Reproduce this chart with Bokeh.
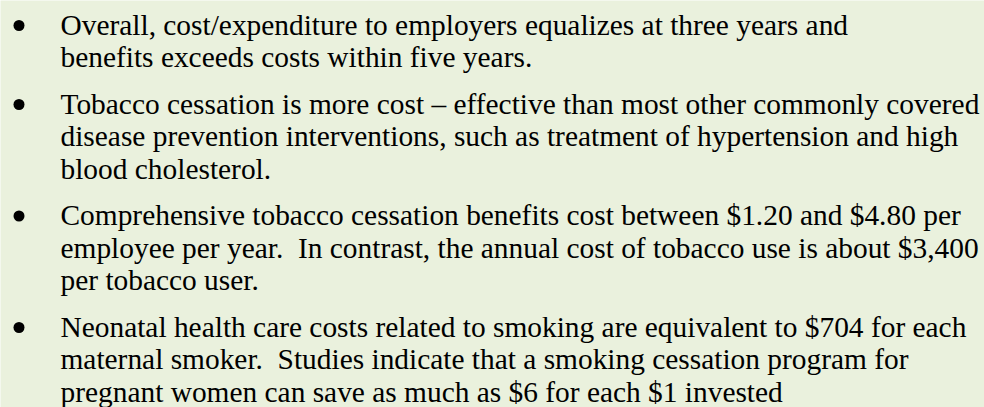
from bokeh.plotting import figure
from bokeh.models import Range1d
from bokeh.core.properties import value
from bokeh.embed import file_html
from bokeh.resources import INLINE

bullet1 = ["Overall, cost/expenditure to employers equalizes at three years and",
           "benefits exceeds costs within five years."]
bullet2 = ["Tobacco cessation is more cost \u2013 effective than most other commonly covered",
           "disease prevention interventions, such as treatment of hypertension and high",
           "blood cholesterol."]
bullet3 = ["Comprehensive tobacco cessation benefits cost between $1.20 and $4.80 per",
           "employee per year.\u00a0 In contrast, the annual cost of tobacco use is about $3,400",
           "per tobacco user."]
bullet4 = ["Neonatal health care costs related to smoking are equivalent to $704 for each",
           "maternal smoker.\u00a0 Studies indicate that a smoking cessation program for",
           "pregnant women can save as much as $6 for each $1 invested"]
bullets = [bullet1, bullet2, bullet3, bullet4]

W, H = 984, 407
FS = 29.4
LINE = 32.5
PARA = 14
FIRST = 33
DY = -9  # correction between requested and drawn baseline

p = figure(width=W, height=H, output_backend="svg", toolbar_location=None,
           x_range=Range1d(0, W), y_range=Range1d(H, 0),
           min_border=0, background_fill_color="#EAF1DD",
           border_fill_color="#EAF1DD")
p.axis.visible = False
p.grid.visible = False
p.outline_line_color = None

xs, ys, texts = [], [], []
bx, by = [], []
y = FIRST
for b in bullets:
    bx.append(18.5)
    by.append(y - 8)
    for line in b:
        xs.append(60)
        ys.append(y + DY)
        texts.append(line)
        y += LINE
    y += PARA

p.text(x=xs, y=ys, text=texts, text_font=value("Liberation Serif"),
       text_font_size=f"{FS}px", text_baseline="alphabetic", text_color="black")
p.scatter(x=bx, y=by, size=11, marker="circle", fill_color="black", line_color=None)

open("out.html", "w").write(file_html(p, INLINE))
